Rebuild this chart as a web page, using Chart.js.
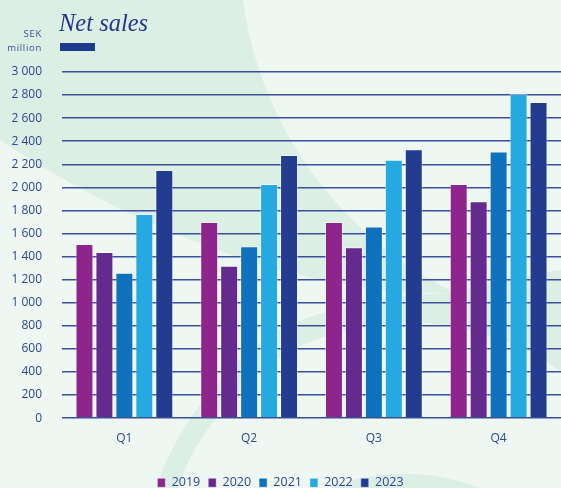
<!DOCTYPE html>
<html>
<head>
<meta charset="utf-8">
<script src="https://cdn.jsdelivr.net/npm/chart.js@4.4.1/dist/chart.umd.min.js"></script>
<style>
  html, body { margin: 0; padding: 0; }
  body {
    width: 561px; height: 488px; overflow: hidden; position: relative;
    background: #eef7f2;
  }
  svg.bg { position: absolute; left: 0; top: 0; }
  #wrap { position: absolute; left: 0; top: 0; width: 561px; height: 499px; }
  .title {
    position: absolute; left: 59px; top: 9px;
    font-family: "Liberation Serif", "DejaVu Serif", serif; font-style: italic;
    font-size: 24.5px; color: #24388a;
  }
  .title-bar { position: absolute; left: 60px; top: 43px; width: 35px; height: 8px; background: #1f3b8e; }
  .unit {
    position: absolute; right: 519px; top: 27px; text-align: right;
    font-family: "Open Sans", sans-serif; font-size: 9.5px; line-height: 14px;
    color: #3a4f96; letter-spacing: 0.7px;
  }
</style>
</head>
<body>
<svg class="bg" width="561" height="488" viewBox="0 0 561 488">
  <g fill="#dcefe5">
    <path d="M0,0 L243,0 A380,380 0 0 0 454,292 C330,300 150,240 0,140 Z"/>
    <path d="M454,292 C500,282 530,274 561,270 L561,372 C520,342 470,326 420,322 C350,322 290,342 250,380 C215,415 190,450 178,488 L156,488 C175,430 220,370 270,335 C330,302 400,296 454,292 Z"/>
    <path d="M330,488 C370,470 430,468 480,488 Z"/>
  </g>
</svg>
<div id="wrap"><canvas id="salesChart"></canvas></div>
<div class="title">Net sales</div>
<div class="title-bar"></div>
<div class="unit">SEK<br>million</div>
<script>
// Net sales per quarter, SEK million

const quarters = ['Q1', 'Q2', 'Q3', 'Q4'];
const years = ['2019', '2020', '2021', '2022', '2023'];

const sales2019 = [1510, 1700, 1700, 2030];
const sales2020 = [1440, 1320, 1480, 1880];
const sales2021 = [1260, 1490, 1660, 2310];
const sales2022 = [1770, 2030, 2240, 2810];
const sales2023 = [2150, 2280, 2330, 2740];

const yearColors = ['#8e258d', '#652a8e', '#1072bc', '#25a9e0', '#243c8f'];

const series = [sales2019, sales2020, sales2021, sales2022, sales2023];

const ctx = document.getElementById('salesChart').getContext('2d');

const chart = new Chart(ctx, {
  type: 'bar',
  data: {
    labels: quarters,
    datasets: years.map((y, i) => ({
      label: y,
      data: series[i],
      backgroundColor: yearColors[i],
      borderColor: 'rgba(255,255,255,0.45)',
      borderWidth: 1,
      borderSkipped: 'bottom',
      categoryPercentage: 0.8,
      barPercentage: 0.9
    }))
  },
  options: {
    responsive: true,
    maintainAspectRatio: false,
    animation: false,
    layout: { padding: { top: 72, right: 0, left: 0, bottom: 0 } },
    plugins: {
      tooltip: { enabled: false },
      legend: {
        position: 'bottom',
        title: { display: true, text: ' ', font: { size: 10 }, padding: { top: 0, bottom: 6 } },
        labels: {
          boxWidth: 8,
          boxHeight: 9,
          padding: 8,
          color: '#2f4593',
          font: { family: 'Open Sans', size: 12.5 }
        }
      }
    },
    scales: {
      x: {
        grid: { display: false },
        border: { display: false },
        ticks: {
          color: '#2f4593',
          padding: 5,
          font: { family: 'Open Sans', size: 12 }
        }
      },
      y: {
        min: 0,
        max: 3000,
        afterFit: s => { s.width = 62; },
        ticks: {
          stepSize: 200,
          padding: 20,
          color: '#2f4593',
          font: { family: 'Open Sans', size: 12 },
          callback: v => String(v).replace(/\B(?=(\d{3})+(?!\d))/g, ' ')
        },
        grid: {
          color: '#3a4f98',
          lineWidth: 1.5,
          drawTicks: false
        },
        border: { display: false }
      }
    }
  }
});
</script>
</body>
</html>
